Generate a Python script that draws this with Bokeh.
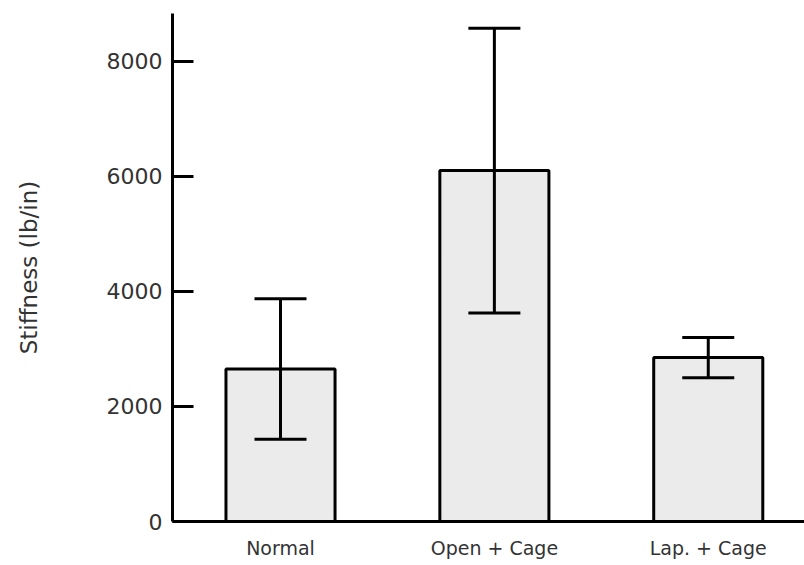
from bokeh.plotting import figure
from bokeh.models import Range1d, FixedTicker, ColumnDataSource, Whisker
from bokeh.embed import file_html
from bokeh.resources import INLINE

categories = ["Normal", "Open + Cage", "Lap. + Cage"]
means = [2650, 6100, 2850]
errors = [1220, 2475, 350]
y_ticks = [0, 2000, 4000, 6000, 8000]

xs = list(range(len(categories)))
src = ColumnDataSource(dict(
    x=xs, top=means,
    upper=[m + e for m, e in zip(means, errors)],
    lower=[m - e for m, e in zip(means, errors)],
))

p = figure(width=804, height=565, output_backend="svg", toolbar_location=None,
           x_range=Range1d(-0.505, 2.45), y_range=Range1d(0, 8830),
           min_border_left=172, min_border_right=0, min_border_top=13, min_border_bottom=44)

p.vbar(x="x", top="top", width=0.51, bottom=0, source=src,
       fill_color="#ebebeb", line_color="black", line_width=3)

w = Whisker(base="x", upper="upper", lower="lower", source=src, level="overlay",
            line_color="black", line_width=3, dimension="height")
for h in (w.upper_head, w.lower_head):
    h.size = 52
    h.line_width = 3
    h.line_color = "black"
p.add_layout(w)

p.outline_line_color = None
p.xgrid.grid_line_color = None
p.ygrid.grid_line_color = None
p.background_fill_color = "white"
p.border_fill_color = "white"

p.yaxis.ticker = FixedTicker(ticks=y_ticks)
p.yaxis.axis_line_width = 3
p.yaxis.axis_line_color = "black"
p.yaxis.major_tick_line_width = 3
p.yaxis.major_tick_in = 21
p.yaxis.major_tick_out = 0
p.yaxis.minor_tick_line_color = None
p.yaxis.major_label_text_font = "DejaVu Sans"
p.yaxis.major_label_text_font_size = "22px"
p.yaxis.major_label_text_color = "#333333"
p.yaxis.major_label_standoff = 10
p.yaxis.axis_label = "Stiffness (lb/in)"
p.yaxis.axis_label_text_font = "DejaVu Sans"
p.yaxis.axis_label_text_font_style = "normal"
p.yaxis.axis_label_text_font_size = "23px"
p.yaxis.axis_label_text_color = "#333333"
p.yaxis.axis_label_standoff = 62

p.xaxis.ticker = FixedTicker(ticks=xs)
p.xaxis.major_label_overrides = {i: c for i, c in zip(xs, categories)}
p.xaxis.axis_line_width = 3
p.xaxis.axis_line_color = "black"
p.xaxis.major_tick_line_color = None
p.xaxis.minor_tick_line_color = None
p.xaxis.major_label_text_font = "DejaVu Sans"
p.xaxis.major_label_text_font_size = "19px"
p.xaxis.major_label_text_color = "#333333"
p.xaxis.major_label_standoff = 9

open("out.html", "w").write(file_html(p, INLINE))
